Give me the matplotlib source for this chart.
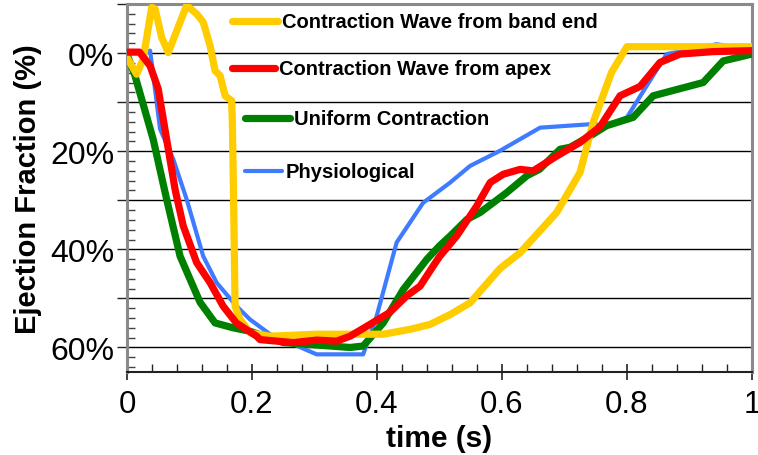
import matplotlib.pyplot as plt
from matplotlib.ticker import MultipleLocator, FuncFormatter

plt.rcParams['font.family'] = ['Liberation Sans', 'DejaVu Sans']

# Contraction Wave from band end (yellow)
band_t = [0.0, 0.0155, 0.026, 0.0395, 0.045, 0.0555, 0.066, 0.0955, 0.1115, 0.122, 0.133,
          0.141, 0.149, 0.157, 0.1675, 0.1685, 0.17, 0.173, 0.181, 0.197, 0.229, 0.3035,
          0.357, 0.41, 0.453, 0.485, 0.517, 0.549, 0.597, 0.629, 0.6875, 0.725, 0.746,
          0.7755, 0.8, 1.0]
band_ef = [0.9, 4.3, 1.2, -9.3, -9.0, -3.2, -0.1, -9.7, -8.0, -6.3, -1.5,
           3.6, 4.6, 8.7, 9.7, 13.5, 24.4, 51.6, 54.3, 57.0, 57.7, 57.3,
           57.3, 57.3, 56.3, 55.3, 53.3, 50.9, 43.9, 40.7, 32.5, 24.3, 14.1,
           3.9, -1.3, -1.3]

# Contraction Wave from apex (red)
apex_t = [0.0, 0.02, 0.037, 0.05, 0.0635, 0.077, 0.09, 0.1115, 0.133, 0.154, 0.175,
          0.2075, 0.213, 0.266, 0.3035, 0.3355, 0.357, 0.3835, 0.42, 0.4475, 0.469,
          0.49, 0.5, 0.5275, 0.5595, 0.581, 0.602, 0.629, 0.65, 0.6875, 0.725, 0.757,
          0.789, 0.821, 0.853, 0.885, 0.938, 1.0]
apex_ef = [-0.2, -0.2, 2.6, 7.3, 17.6, 27.8, 35.2, 42.7, 46.8, 51.6, 55.0,
           57.7, 58.4, 59.0, 58.5, 58.7, 57.7, 55.7, 52.9, 49.5, 47.5,
           43.4, 41.5, 37.3, 31.2, 26.4, 24.7, 23.7, 24.0, 21.0, 18.2, 15.0,
           8.7, 6.8, 1.9, 0.2, -0.3, -0.5]

# Uniform Contraction (green)
unif_t = [0.0, 0.0128, 0.042, 0.0635, 0.085, 0.117, 0.141, 0.17, 0.197, 0.25, 0.357,
          0.378, 0.41, 0.442, 0.48, 0.5, 0.517, 0.544, 0.565, 0.607, 0.64, 0.66,
          0.693, 0.709, 0.741, 0.7675, 0.81, 0.842, 0.922, 0.954, 1.0]
unif_ef = [0.2, 4.6, 17.6, 29.8, 41.4, 50.8, 55.0, 56.0, 56.7, 59.0, 60.0,
           59.7, 55.0, 48.2, 42.0, 39.3, 37.3, 33.9, 32.5, 28.5, 25.0, 23.7,
           19.6, 19.2, 16.9, 14.8, 13.1, 8.7, 6.0, 1.6, 0.2]

# Physiological (blue)
phys_t = [0.0, 0.03, 0.037, 0.053, 0.074, 0.0955, 0.122, 0.1435, 0.1755, 0.197, 0.229,
          0.3035, 0.378, 0.3995, 0.4315, 0.474, 0.517, 0.549, 0.597, 0.661, 0.741,
          0.7675, 0.8, 0.8635, 0.9435, 0.96, 1.0]
phys_ef = [0.0, 0.0, -0.5, 15.5, 21.6, 29.8, 41.4, 46.8, 51.6, 54.3, 57.3,
           61.4, 61.4, 53.6, 38.6, 30.5, 26.4, 23.0, 19.9, 15.2, 14.5,
           14.8, 13.1, 0.2, -1.8, -1.5, -1.0]

labels = ['Contraction Wave from band end', 'Contraction Wave from apex',
          'Uniform Contraction', 'Physiological']

fig = plt.figure(figsize=(7.58, 4.56), dpi=100)
ax = fig.add_axes([0.1675, 0.182, 0.8245, 0.807])

line_kw = dict(solid_joinstyle='round', solid_capstyle='round')
ax.plot(phys_t, phys_ef, color='#3f7bff', lw=3.0, zorder=3, **line_kw)
ax.plot(unif_t, unif_ef, color='#008000', lw=5.2, zorder=4, **line_kw)
ax.plot(band_t, band_ef, color='#ffcc00', lw=5.2, zorder=5, **line_kw)
ax.plot(apex_t, apex_ef, color='#ff0000', lw=5.2, zorder=6, **line_kw)

ax.set_xlim(0, 1)
ax.set_ylim(65, -10)

ax.xaxis.set_major_locator(MultipleLocator(0.2))
ax.xaxis.set_minor_locator(MultipleLocator(0.04))
ax.xaxis.set_major_formatter(FuncFormatter(lambda v, p: '%g' % round(v, 2)))
ax.yaxis.set_major_locator(MultipleLocator(10))
ax.yaxis.set_minor_locator(MultipleLocator(2))
ax.yaxis.set_major_formatter(FuncFormatter(
    lambda v, p: '%d%%' % round(v) if round(v) % 20 == 0 and v >= 0 else ''))

ax.tick_params(axis='x', which='major', direction='inout', length=12, width=1.2,
               labelsize=22.5, pad=6, color='#222222')
ax.tick_params(axis='x', which='minor', direction='in', length=6, width=1, color='#222222')
ax.tick_params(axis='y', which='major', direction='out', length=7, width=1,
               labelsize=23, pad=2, color='#222222')
ax.tick_params(axis='y', which='minor', direction='in', length=6, width=1, color='#444444')

ax.grid(True, axis='y', which='major', color='black', lw=1)
ax.set_axisbelow(True)

for side in ['left', 'top', 'right']:
    ax.spines[side].set_color('#8a8a8a')
    ax.spines[side].set_linewidth(2.2)
ax.spines['bottom'].set_color('#222222')
ax.spines['bottom'].set_linewidth(1.5)

ax.set_xlabel('time (s)', fontsize=21.5, fontweight='bold', labelpad=4)
ax.set_ylabel('Ejection Fraction (%)', fontsize=21, fontweight='bold', labelpad=6)

# staggered legend entries, as in the original figure
leg_colors = ['#ffcc00', '#ff0000', '#008000', '#3f7bff']
leg_widths = [5.2, 5.2, 5.2, 3.0]
leg_x = [(0.168, 0.242), (0.168, 0.237), (0.189, 0.261), (0.189, 0.248)]
leg_y = [0.953, 0.826, 0.69, 0.546]
for lab, c, w, (x0, x1), y in zip(labels, leg_colors, leg_widths, leg_x, leg_y):
    ax.plot([x0, x1], [y, y], color=c, lw=w, transform=ax.transAxes,
            solid_capstyle='round', zorder=7)
    ax.text(x1 + 0.006, y, lab, transform=ax.transAxes, fontsize=14.5,
            fontweight='bold', va='center', ha='left', zorder=7)

fig.savefig('out.png', dpi=100)
